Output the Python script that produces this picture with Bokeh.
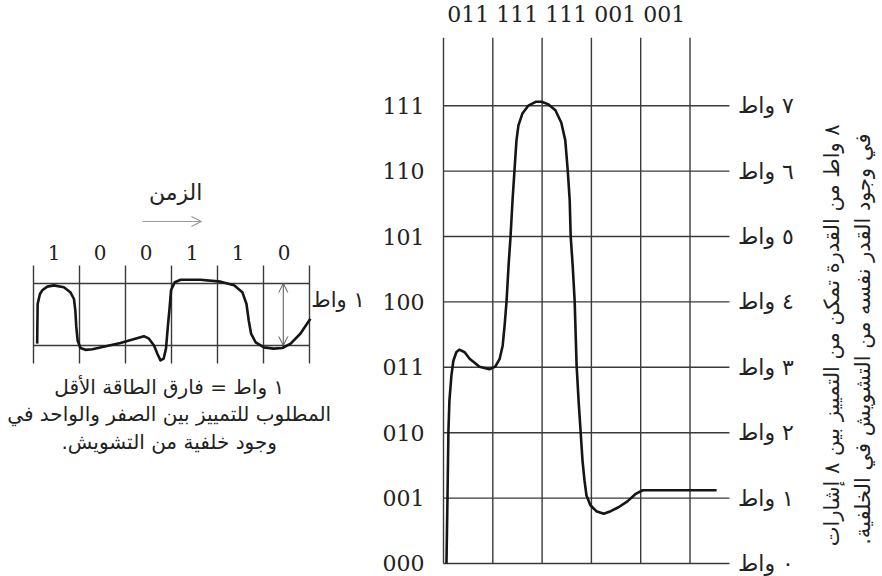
import math
from bokeh.plotting import figure
from bokeh.models import Range1d, Arrow, OpenHead
from bokeh.layouts import row
from bokeh.core.properties import value
from bokeh.embed import file_html
from bokeh.resources import INLINE

# ---------------- data ----------------
# right chart: 8 levels (3 bits per symbol)
LEVEL_CODES = ["000", "001", "010", "011", "100", "101", "110", "111"]
WATT_LABELS = ["٠ واط", "١ واط", "٢ واط", "٣ واط", "٤ واط", "٥ واط", "٦ واط", "٧ واط"]
TOP_CODE = "011 111 111 001 001"
SIG8_T = [0.06, 0.08, 0.10, 0.12, 0.16, 0.20, 0.26, 0.32, 0.43, 0.53, 0.73, 0.93, 1.05, 1.14,
          1.20, 1.24, 1.28, 1.32, 1.36, 1.40, 1.44, 1.48, 1.52, 1.60, 1.72, 1.87, 1.99, 2.13,
          2.27, 2.39, 2.47, 2.52, 2.56, 2.58, 2.62, 2.66, 2.70, 2.74, 2.78, 2.82, 2.86, 2.90,
          2.98, 3.10, 3.25, 3.39, 3.55, 3.73, 3.89, 4.04, 4.20, 5.54]
SIG8_V = [0.00, 0.96, 2.03, 2.49, 2.87, 3.10, 3.23, 3.27, 3.23, 3.13, 3.01, 2.97, 3.01, 3.13,
          3.33, 3.64, 4.02, 4.56, 5.00, 5.55, 6.01, 6.47, 6.70, 6.88, 7.00, 7.06, 7.06, 7.02,
          6.93, 6.74, 6.47, 6.01, 5.55, 5.00, 4.56, 4.02, 3.03, 2.49, 2.03, 1.57, 1.27, 1.04,
          0.89, 0.80, 0.76, 0.80, 0.86, 0.95, 1.06, 1.12, 1.12, 1.12]
NOTE_RIGHT = ["٨ واط من القدرة تمكن من التمييز بين ٨ إشارات",
              "في وجود القدر نفسه من التشويش في الخلفية.\u200f"]

# left chart: binary signal
BITS = ["1", "0", "0", "1", "1", "0"]
SIG2_T = [0.08, 0.09, 0.14, 0.19, 0.30, 0.44, 0.66, 0.80, 0.88, 0.91, 0.93, 0.96, 1.02, 1.13,
          1.28, 1.89, 2.40, 2.51, 2.62, 2.69, 2.76, 2.83, 2.88, 2.92, 2.96, 2.99, 3.07, 3.20,
          3.63, 4.07, 4.36, 4.54, 4.63, 4.68, 4.73, 4.83, 5.01, 5.22, 5.41, 5.59, 5.80, 6.02]
SIG2_V = [0.03, 0.67, 0.83, 0.89, 0.95, 0.97, 0.94, 0.86, 0.75, 0.56, 0.30, 0.08, -0.04, -0.07,
          -0.06, 0.04, 0.15, 0.11, 0.00, -0.13, -0.24, -0.21, -0.05, 0.30, 0.62, 0.89, 1.02, 1.06,
          1.06, 1.03, 0.97, 0.86, 0.67, 0.40, 0.19, 0.05, -0.03, -0.05, -0.04, 0.03, 0.19, 0.43]
TIME_LABEL = "الزمن"
ONE_WATT = "١ واط"
CAPTION = ["١ واط = فارق الطاقة الأقل",
           "المطلوب للتمييز بين الصفر والواحد في",
           "وجود خلفية من التشويش.\u200f"]

# ---------------- styles ----------------
GRID_C = "#3a3a3a"
CURVE_C = "#151515"
TEXT_C = "#222222"
NUM_FONT = value("DejaVu Serif")
AR_FONT = value("DejaVu Sans")
H = 576


def make_fig(w, xr, yr):
    p = figure(width=w, height=H, x_range=Range1d(*xr), y_range=Range1d(*yr),
               output_backend="svg", toolbar_location=None, title=None,
               x_axis_location=None, y_axis_location=None, min_border=0)
    p.grid.visible = False
    p.outline_line_color = None
    p.background_fill_color = "white"
    p.border_fill_color = "white"
    return p


# ---------------- left figure ----------------
pl = make_fig(372, (-0.7174, 7.3696), (-3.7258, 5.5645))
ncell = len(BITS)
pl.segment(x0=list(range(ncell + 1)), y0=[-0.29] * (ncell + 1),
           x1=list(range(ncell + 1)), y1=[1.29] * (ncell + 1),
           line_color=GRID_C, line_width=1.4)
pl.segment(x0=[0, 0], y0=[0, 1], x1=[ncell, ncell], y1=[0, 1],
           line_color=GRID_C, line_width=1.4)
pl.line(SIG2_T, SIG2_V, line_color=CURVE_C, line_width=2.6, line_join="round")
pl.text(x=[i + 0.45 for i in range(ncell)], y=[1.5] * ncell, text=BITS,
        text_font=NUM_FONT, text_font_size="20px", text_align="center",
        text_baseline="middle", text_color=TEXT_C)
pl.text(x=[3.09], y=[2.47], text=[TIME_LABEL], text_font=AR_FONT, text_font_size="22px",
        text_align="center", text_baseline="middle", text_color=TEXT_C)
pl.add_layout(Arrow(end=OpenHead(size=10, line_color="#9a9a9a", line_width=1.2),
                    x_start=2.37, y_start=2.0, x_end=3.65, y_end=2.0,
                    line_color="#9a9a9a", line_width=1.2))
pl.add_layout(Arrow(start=OpenHead(size=9, line_color="#555555", line_width=1.0),
                    end=OpenHead(size=9, line_color="#555555", line_width=1.0),
                    x_start=5.43, y_start=0.0, x_end=5.43, y_end=1.0,
                    line_color="#555555", line_width=1.0))
pl.text(x=[6.62], y=[0.74], text=[ONE_WATT], text_font=AR_FONT, text_font_size="21px",
        text_align="center", text_baseline="middle", text_color=TEXT_C)
pl.text(x=[2.95] * 3, y=[-0.67, -1.11, -1.55], text=CAPTION, text_font=AR_FONT,
        text_font_size="20px", text_align="center", text_baseline="middle",
        text_color=TEXT_C)

# ---------------- right figure ----------------
pr = make_fig(508, (-1.4402, 8.8641), (-0.1988, 8.6086))
nlev = len(LEVEL_CODES)
ncol = 5
pr.segment(x0=list(range(ncol + 1)), y0=[0] * (ncol + 1),
           x1=list(range(ncol + 1)), y1=[8.04] * (ncol + 1),
           line_color=GRID_C, line_width=1.4)
pr.segment(x0=[0] * nlev, y0=list(range(nlev)), x1=[5.8] * nlev, y1=list(range(nlev)),
           line_color=GRID_C, line_width=1.4)
pr.line(SIG8_T, SIG8_V, line_color=CURVE_C, line_width=2.6, line_join="round")
pr.text(x=[-0.385] * nlev, y=list(range(nlev)), text=LEVEL_CODES, text_font=NUM_FONT,
        text_font_size="22px", text_align="right", text_baseline="middle",
        text_color=TEXT_C)
pr.text(x=[6.54] * nlev, y=list(range(nlev)), text=WATT_LABELS, text_font=AR_FONT,
        text_font_size="22px", text_align="center", text_baseline="middle",
        text_color=TEXT_C)
pr.text(x=[2.49], y=[8.39], text=[TOP_CODE], text_font=NUM_FONT, text_font_size="22px",
        text_align="center", text_baseline="middle", text_color=TEXT_C)
pr.text(x=[7.89, 8.50], y=[3.49, 3.43], text=NOTE_RIGHT, angle=math.pi / 2,
        text_font=AR_FONT, text_font_size="21px", text_align="center",
        text_baseline="middle", text_color=TEXT_C)

layout = row(pl, pr)
open("out.html", "w").write(file_html(layout, INLINE))
